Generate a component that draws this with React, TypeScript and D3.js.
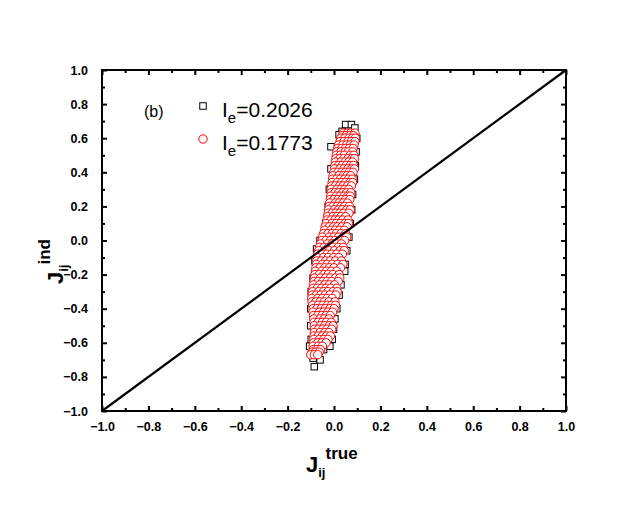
import * as d3 from 'd3';
import { useEffect, useRef } from 'react';

// axis ticks
const majorTicks = [-1.0, -0.8, -0.6, -0.4, -0.2, 0.0, 0.2, 0.4, 0.6, 0.8, 1.0];
const minorTicks = [-0.9, -0.7, -0.5, -0.3, -0.1, 0.1, 0.3, 0.5, 0.7, 0.9];

// legend entries
const seriesNames = ['0.2026', '0.1773'];

// inferred vs true couplings, Ie = 0.2026 (squares)
const squarePoints: [number, number][] = [
  [0.05, 0.68], [0.075, 0.68], [0.09, 0.66], [0.035, 0.64], [0.022, 0.62],
  [0.098, 0.6], [0.095, 0.52], [0.092, 0.44], [0.088, 0.36], [0.08, 0.27],
  [0.076, 0.18], [0.07, 0.1], [0.064, 0.02], [0.055, -0.06], [0.048, -0.14],
  [0.046, -0.18], [0.03, -0.26], [0.022, -0.32], [0.012, -0.4], [0.004, -0.46],
  [-0.002, -0.52], [-0.008, -0.58], [-0.018, -0.62],
  [-0.013, 0.55], [-0.013, 0.42], [-0.02, 0.3], [-0.025, 0.2], [-0.035, 0.1],
  [-0.06, 0.0], [-0.075, -0.05], [-0.082, -0.12], [-0.09, -0.22], [-0.098, -0.3],
  [-0.1, -0.4], [-0.1, -0.5], [-0.098, -0.58], [-0.105, -0.62],
  [-0.085, -0.74], [-0.06, -0.7], [-0.045, -0.64], [-0.07, -0.66], [-0.09, -0.69],
  [0.03, 0.4], [0.01, 0.2], [-0.02, 0.0], [-0.04, -0.2], [-0.06, -0.45],
];

// inferred vs true couplings, Ie = 0.1773 (circles), one row per J_ind level
const circleRows: [number, number[]][] = [
  [0.63, [0.04, 0.058, 0.072, 0.09]],
  [0.615, [0.036, 0.052, 0.068, 0.084]],
  [0.60, [0.03, 0.047, 0.065, 0.08, 0.092]],
  [0.58, [0.026, 0.043, 0.06, 0.075, 0.09]],
  [0.56, [0.02, 0.038, 0.055, 0.07, 0.086]],
  [0.54, [0.016, 0.034, 0.05, 0.066, 0.082]],
  [0.52, [0.012, 0.03, 0.048, 0.062, 0.08]],
  [0.50, [0.01, 0.028, 0.044, 0.07, 0.085]],
  [0.48, [0.008, 0.025, 0.042, 0.06, 0.077, 0.088]],
  [0.46, [0.006, 0.03, 0.048, 0.064, 0.08]],
  [0.44, [0.004, 0.02, 0.036, 0.053, 0.07, 0.084]],
  [0.42, [0.002, 0.026, 0.044, 0.06, 0.076, 0.088]],
  [0.40, [0.0, 0.017, 0.034, 0.05, 0.066, 0.082]],
  [0.38, [-0.004, 0.022, 0.04, 0.056, 0.072]],
  [0.36, [-0.006, 0.012, 0.028, 0.046, 0.063, 0.078]],
  [0.34, [-0.008, 0.015, 0.033, 0.05, 0.068, 0.08]],
  [0.32, [-0.01, 0.006, 0.024, 0.04, 0.058, 0.075]],
  [0.30, [-0.012, 0.012, 0.03, 0.046, 0.064]],
  [0.28, [-0.012, 0.004, 0.02, 0.037, 0.054, 0.072]],
  [0.26, [-0.014, 0.01, 0.026, 0.043, 0.06, 0.07]],
  [0.24, [-0.016, 0.0, 0.017, 0.034, 0.05, 0.068]],
  [0.22, [-0.018, 0.006, 0.022, 0.04, 0.058]],
  [0.20, [-0.02, -0.004, 0.013, 0.03, 0.046, 0.066]],
  [0.18, [-0.024, 0.002, 0.02, 0.036, 0.055, 0.07]],
  [0.16, [-0.025, -0.008, 0.008, 0.025, 0.042, 0.064]],
  [0.14, [-0.028, -0.004, 0.014, 0.03, 0.05]],
  [0.12, [-0.03, -0.012, 0.004, 0.02, 0.038, 0.06]],
  [0.10, [-0.034, -0.008, 0.01, 0.028, 0.047, 0.062]],
  [0.08, [-0.038, -0.02, -0.002, 0.015, 0.034, 0.056]],
  [0.06, [-0.04, -0.014, 0.005, 0.024, 0.044]],
  [0.04, [-0.045, -0.026, -0.008, 0.01, 0.03, 0.05]],
  [0.02, [-0.05, -0.02, 0.0, 0.02, 0.04, 0.055]],
  [0.00, [-0.052, -0.034, -0.015, 0.004, 0.024, 0.046]],
  [-0.02, [-0.058, -0.028, -0.008, 0.012, 0.032]],
  [-0.04, [-0.062, -0.043, -0.024, -0.004, 0.018, 0.04]],
  [-0.06, [-0.066, -0.04, -0.02, 0.002, 0.026, 0.044]],
  [-0.08, [-0.07, -0.05, -0.03, -0.01, 0.012, 0.036]],
  [-0.10, [-0.072, -0.045, -0.025, -0.002, 0.02]],
  [-0.12, [-0.074, -0.055, -0.036, -0.016, 0.006, 0.032]],
  [-0.14, [-0.076, -0.05, -0.03, -0.008, 0.016, 0.038]],
  [-0.16, [-0.078, -0.06, -0.04, -0.02, 0.0, 0.028]],
  [-0.18, [-0.08, -0.052, -0.032, -0.012, 0.012]],
  [-0.20, [-0.082, -0.063, -0.044, -0.025, -0.005, 0.022]],
  [-0.22, [-0.084, -0.058, -0.036, -0.016, 0.006, 0.025]],
  [-0.24, [-0.086, -0.067, -0.048, -0.03, -0.01, 0.018]],
  [-0.26, [-0.088, -0.062, -0.04, -0.02, 0.002]],
  [-0.28, [-0.09, -0.072, -0.053, -0.034, -0.014, 0.012]],
  [-0.30, [-0.092, -0.066, -0.045, -0.026, -0.004, 0.014]],
  [-0.32, [-0.094, -0.076, -0.057, -0.038, -0.018, 0.008]],
  [-0.34, [-0.096, -0.07, -0.05, -0.03, -0.008]],
  [-0.36, [-0.095, -0.078, -0.06, -0.042, -0.022, 0.004]],
  [-0.38, [-0.092, -0.068, -0.048, -0.028, -0.01, 0.006]],
  [-0.40, [-0.09, -0.073, -0.055, -0.037, -0.018, 0.0]],
  [-0.42, [-0.09, -0.062, -0.044, -0.026, -0.006]],
  [-0.44, [-0.088, -0.07, -0.052, -0.034, -0.016]],
  [-0.46, [-0.087, -0.06, -0.042, -0.022]],
  [-0.48, [-0.086, -0.068, -0.05, -0.032, -0.012]],
  [-0.50, [-0.085, -0.058, -0.04, -0.02, -0.004]],
  [-0.52, [-0.084, -0.066, -0.048, -0.03, -0.01]],
  [-0.54, [-0.085, -0.06, -0.04, -0.022]],
  [-0.56, [-0.086, -0.068, -0.05, -0.032, -0.016]],
  [-0.58, [-0.087, -0.062, -0.044, -0.026]],
  [-0.60, [-0.088, -0.07, -0.052, -0.034]],
  [-0.62, [-0.09, -0.068, -0.05]],
  [-0.64, [-0.09, -0.074, -0.058]],
  [-0.655, [-0.095, -0.08, -0.064]],
  [-0.67, [-0.1, -0.085, -0.07]],
];

// reference line J_ind = J_true
const diagonal: [number, number][] = [[-1, -1], [1, 1]];

export default function App() {
  const ref = useRef<SVGSVGElement | null>(null);

  useEffect(() => {
    if (!ref.current) return;
    const svg = d3.select(ref.current);
    svg.selectAll('*').remove();

    const width = 633;
    const height = 515;
    const margin = { top: 70, right: 67, bottom: 104, left: 102 };
    const x = d3.scaleLinear().domain([-1, 1]).range([margin.left, width - margin.right]);
    const y = d3.scaleLinear().domain([-1, 1]).range([height - margin.bottom, margin.top]);
    const font = 'Liberation Sans, Arial, sans-serif';

    const clip = svg.append('clipPath').attr('id', 'plot-clip');
    clip.append('rect')
      .attr('x', x(-1)).attr('y', y(1))
      .attr('width', x(1) - x(-1)).attr('height', y(-1) - y(1));

    // scatter
    const marks = svg.append('g').attr('clip-path', 'url(#plot-clip)');
    const sq = 6.5;
    marks.selectAll('rect.sq')
      .data(squarePoints)
      .enter()
      .append('rect')
      .attr('class', 'sq')
      .attr('x', (d) => x(d[0]) - sq / 2)
      .attr('y', (d) => y(d[1]) - sq / 2)
      .attr('width', sq)
      .attr('height', sq)
      .attr('fill', '#fff')
      .attr('stroke', '#000')
      .attr('stroke-width', 1);

    const circlePoints = circleRows.flatMap(([yv, xs]) => xs.map((xv) => [xv, yv] as [number, number]));
    marks.selectAll('circle.pt')
      .data(circlePoints)
      .enter()
      .append('circle')
      .attr('class', 'pt')
      .attr('cx', (d) => x(d[0]))
      .attr('cy', (d) => y(d[1]))
      .attr('r', 4.2)
      .attr('fill', '#fff')
      .attr('stroke', '#f00')
      .attr('stroke-width', 1);

    // diagonal
    svg.append('path')
      .attr('d', d3.line<[number, number]>().x((d) => x(d[0])).y((d) => y(d[1]))(diagonal) || '')
      .attr('stroke', '#000')
      .attr('stroke-width', 2.2)
      .attr('fill', 'none');

    // frame
    svg.append('rect')
      .attr('x', x(-1)).attr('y', y(1))
      .attr('width', x(1) - x(-1)).attr('height', y(-1) - y(1))
      .attr('fill', 'none')
      .attr('stroke', '#000')
      .attr('stroke-width', 2);

    // inward ticks on all four sides
    svg.append('g').attr('transform', `translate(0,${y(-1)})`)
      .call(d3.axisBottom(x).tickValues(majorTicks).tickSize(-5).tickPadding(11).tickFormat(d3.format('.1f')));
    svg.append('g').attr('transform', `translate(0,${y(1)})`)
      .call(d3.axisTop(x).tickValues(majorTicks).tickSize(-5).tickFormat(() => ''));
    svg.append('g').attr('transform', `translate(0,${y(-1)})`)
      .call(d3.axisBottom(x).tickValues(minorTicks).tickSize(-3).tickFormat(() => ''));
    svg.append('g').attr('transform', `translate(0,${y(1)})`)
      .call(d3.axisTop(x).tickValues(minorTicks).tickSize(-3).tickFormat(() => ''));
    svg.append('g').attr('transform', `translate(${x(-1)},0)`)
      .call(d3.axisLeft(y).tickValues(majorTicks).tickSize(-5).tickPadding(14).tickFormat(d3.format('.1f')));
    svg.append('g').attr('transform', `translate(${x(1)},0)`)
      .call(d3.axisRight(y).tickValues(majorTicks).tickSize(-5).tickFormat(() => ''));
    svg.append('g').attr('transform', `translate(${x(-1)},0)`)
      .call(d3.axisLeft(y).tickValues(minorTicks).tickSize(-3).tickFormat(() => ''));
    svg.append('g').attr('transform', `translate(${x(1)},0)`)
      .call(d3.axisRight(y).tickValues(minorTicks).tickSize(-3).tickFormat(() => ''));

    svg.selectAll('.domain').remove();
    svg.selectAll('.tick line').attr('stroke', '#000').attr('stroke-width', 2);
    svg.selectAll('.tick text')
      .attr('fill', '#000')
      .style('font-family', font)
      .style('font-size', '12.5px')
      .style('font-weight', 'bold');

    // panel label
    svg.append('text')
      .attr('x', 144).attr('y', 117)
      .text('(b)')
      .style('font-family', font)
      .style('font-size', '16px');

    // legend
    const legend = svg.append('g').attr('transform', 'translate(203,106)');
    legend.append('rect')
      .attr('x', -sq / 2).attr('y', -sq / 2).attr('width', sq).attr('height', sq)
      .attr('fill', '#fff').attr('stroke', '#000');
    legend.append('circle')
      .attr('cx', 0).attr('cy', 33).attr('r', 4.2)
      .attr('fill', '#fff').attr('stroke', '#f00');
    seriesNames.forEach((name, i) => {
      const t = legend.append('text')
        .attr('x', 19).attr('y', 11 + i * 33)
        .style('font-family', font)
        .style('font-size', '21px');
      t.append('tspan').text('I');
      t.append('tspan').attr('dy', 6).style('font-size', '15px').text('e');
      t.append('tspan').attr('dy', -6).text(`=${name}`);
    });

    // axis titles
    const xt = svg.append('text')
      .attr('x', 306).attr('y', 472)
      .style('font-family', font)
      .style('font-size', '22px')
      .style('font-weight', 'bold');
    xt.append('tspan').text('J');
    xt.append('tspan').attr('dy', 5).style('font-size', '13px').text('ij');
    xt.append('tspan').attr('dy', -18).style('font-size', '17px').text('true');

    const yt = svg.append('text')
      .attr('transform', 'translate(63,284) rotate(-90)')
      .style('font-family', font)
      .style('font-size', '22px')
      .style('font-weight', 'bold');
    yt.append('tspan').text('J');
    yt.append('tspan').attr('dy', 5).style('font-size', '13px').text('ij');
    yt.append('tspan').attr('dy', -18).style('font-size', '17px').text('ind');
  }, []);

  return (
    <svg
      ref={ref}
      width={633}
      height={515}
      style={{ position: 'absolute', left: 0, top: 0, background: '#fff' }}
      role="img"
      aria-label="Inferred versus true couplings"
    />
  );
}
